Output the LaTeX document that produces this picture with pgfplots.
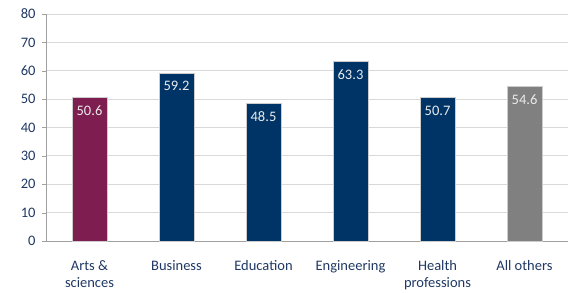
\documentclass[border=0pt]{standalone}
\usepackage{pgfplots}
\pgfplotsset{compat=1.18}
\usepackage{fontspec}
\setmainfont{Carlito}
\definecolor{maroon}{RGB}{126,29,80}
\definecolor{navy}{RGB}{0,52,103}
\definecolor{bargray}{RGB}{128,128,128}
\definecolor{labelblue}{RGB}{31,56,100}
\definecolor{gridgray}{RGB}{217,217,217}
\definecolor{axisgray}{RGB}{160,160,160}
\begin{document}
\begin{tikzpicture}
\begin{axis}[
  scale only axis,
  width=522bp, height=227bp,
  xmin=-0.5, xmax=5.5,
  ymin=0, ymax=80,
  ytick={0,10,...,80},
  xtick={0,1,2,3,4,5},
  xticklabels={Arts \&\\sciences,Business,Education,Engineering,Health\\professions,All others},
  xticklabel style={align=center, anchor=north, yshift=-12bp, font=\fontsize{14.5bp}{17bp}\selectfont, text=labelblue},
  yticklabel style={font=\fontsize{14.5bp}{17bp}\selectfont, text=labelblue, xshift=-3bp},
  /pgf/number format/assume math mode=true,
  major x tick style={draw=none},
  major y tick style={draw=axisgray},
  ytick pos=left,
  tick align=outside,
  major tick length=4bp,
  ymajorgrids,
  grid style={gridgray, line width=0.8pt},
  axis x line*=bottom,
  axis y line*=left,
  axis line style={axisgray, line width=0.8pt, -},
  ybar, bar width=35bp, bar shift=0pt,
  nodes near coords,
  nodes near coords style={anchor=north, yshift=-5bp, text=white!92!black, font=\fontsize{14.5bp}{17bp}\selectfont, /pgf/number format/.cd, fixed, fixed zerofill, precision=1, assume math mode=true},
  clip=false,
]
\addplot[fill=maroon, draw=gray!40!white, line width=0.5pt] coordinates {(0,50.6)};
\addplot[fill=navy, draw=gray!40!white, line width=0.5pt] coordinates {(1,59.2) (2,48.5) (3,63.3) (4,50.7)};
\addplot[fill=bargray, draw=gray!40!white, line width=0.5pt] coordinates {(5,54.6)};
\coordinate (ll) at (rel axis cs:0,0);
\coordinate (ur) at (rel axis cs:1,1);
\end{axis}
\pgfresetboundingbox
\path[use as bounding box] ([xshift=-46bp,yshift=-52bp]ll) rectangle ([xshift=1bp,yshift=14bp]ur);
\end{tikzpicture}
\end{document}
